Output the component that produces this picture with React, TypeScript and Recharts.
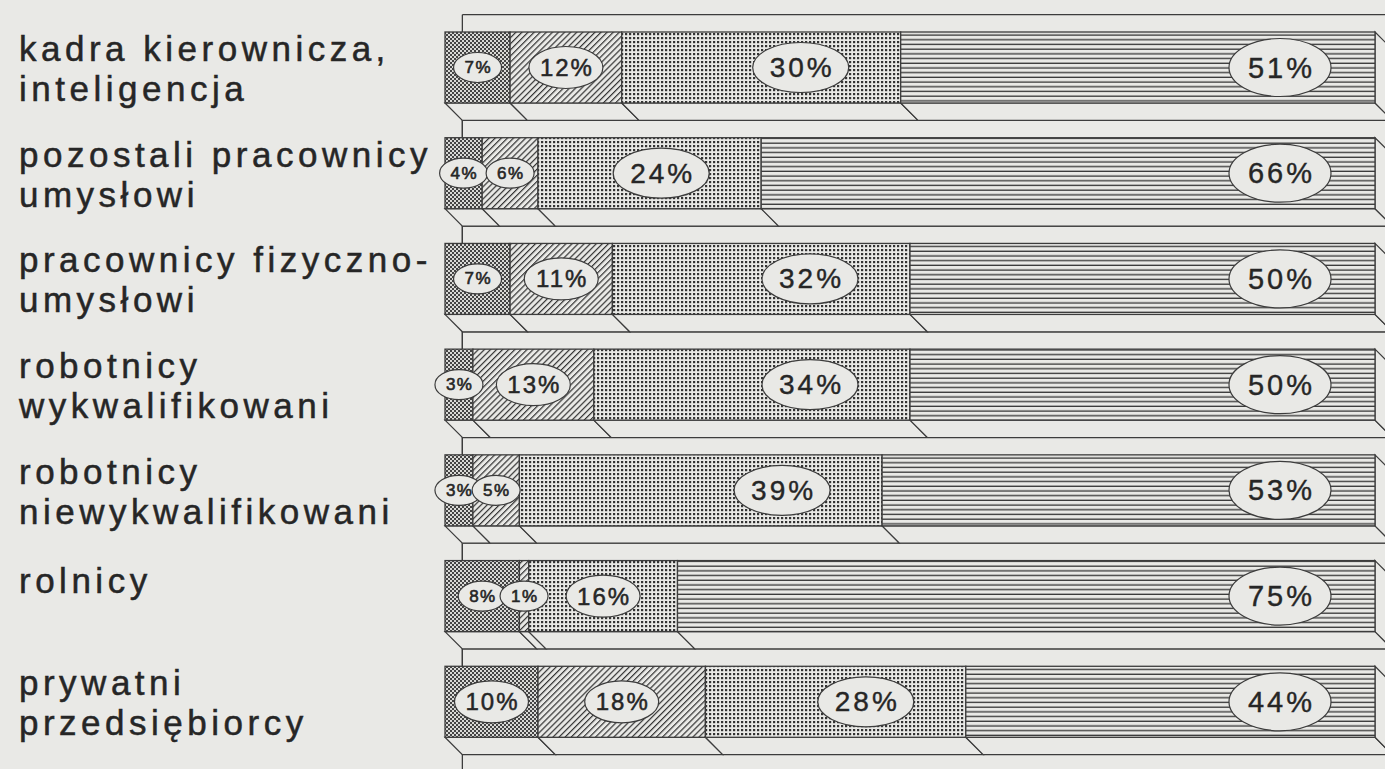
import { BarChart, Bar, XAxis, YAxis } from 'recharts'

// category names, '\n' marks the line break used in the print
const categories = [
  'kadra kierownicza,\ninteligencja',
  'pozostali pracownicy\numysłowi',
  'pracownicy fizyczno-\numysłowi',
  'robotnicy\nwykwalifikowani',
  'robotnicy\nniewykwalifikowani',
  'rolnicy',
  'prywatni\nprzedsiębiorcy',
]

// shares in percent, one array per segment (left to right)
const seg1 = [7, 4, 7, 3, 3, 8, 10]
const seg2 = [12, 6, 11, 13, 5, 1, 18]
const seg3 = [30, 24, 32, 34, 39, 16, 28]
const seg4 = [51, 66, 50, 50, 53, 75, 44]

const data = categories.map((name, i) => ({
  name,
  a: seg1[i],
  b: seg2[i],
  c: seg3[i],
  d: seg4[i],
}))

const PAPER = '#e9e9e6'
const INK = '#3c3c3c'
const DEPTH = 17.36
const FONT = '"Liberation Sans", Arial, sans-serif'

const labelStyles = {
  s: { rx: 24, ry: 15, size: 17, spacing: 1.5, weight: 0.6 },
  m: { rx: 37, ry: 21, size: 24, spacing: 2, weight: 0.5 },
  l: { rx: 48, ry: 25, size: 28, spacing: 3, weight: 0.4 },
  xl: { rx: 51, ry: 29, size: 29, spacing: 3, weight: 0.4 },
}

function Backdrop(props: any) {
  const { x, y, width, height } = props
  return (
    <g>
      <line x1={x + DEPTH} y1={y - DEPTH} x2={x + DEPTH} y2={y + height + DEPTH * 2} stroke={INK} strokeWidth={1.3} />
      <line x1={x + DEPTH} y1={y - DEPTH} x2={x + width + 60} y2={y - DEPTH} stroke={INK} strokeWidth={1.3} />
    </g>
  )
}

function PctLabel({ cx, cy, value, kind }: any) {
  const st = (labelStyles as any)[kind]
  return (
    <g>
      <ellipse cx={cx} cy={cy} rx={st.rx} ry={st.ry} fill={PAPER} stroke={INK} strokeWidth={1.2} />
      <text
        x={cx + st.spacing / 2}
        y={cy}
        textAnchor="middle"
        dominantBaseline="central"
        fontFamily={FONT}
        fontSize={st.size}
        letterSpacing={st.spacing}
        fill="#262626"
        stroke="#262626"
        strokeWidth={st.weight}
      >
        {value}%
      </text>
    </g>
  )
}

function Segment(props: any) {
  const { x, y, width, height, fill, isLast, payload } = props
  const d = DEPTH
  const bottom = y + height
  const labels: any[] = []
  if (isLast) {
    // all four labels are drawn with the last segment so they sit on top
    const vals = [payload.a, payload.b, payload.c, payload.d]
    const total = vals.reduce((s, v) => s + v, 0)
    const unit = width / payload.d
    const origin = x + width - total * unit
    let acc = 0
    vals.forEach((v, k) => {
      const x0 = origin + acc * unit
      const x1 = origin + (acc + v) * unit
      acc += v
      const kind = k === 3 ? 'xl' : v < 10 ? 's' : v < 20 ? 'm' : 'l'
      let cx = (x0 + x1) / 2
      if (k === 3) cx = x1 - 95
      else if (kind === 'l') cx = Math.max(cx, x1 - 100)
      labels.push(<PctLabel key={k} cx={cx} cy={y + height / 2} value={v} kind={kind} />)
    })
  }
  return (
    <g>
      <polygon
        points={`${x},${bottom} ${x + width},${bottom} ${x + width + d},${bottom + d} ${x + d},${bottom + d}`}
        fill={PAPER}
        stroke={INK}
        strokeWidth={1.2}
      />
      {isLast && (
        <polygon
          points={`${x + width},${y} ${x + width + d},${y + d} ${x + width + d},${bottom + d} ${x + width},${bottom}`}
          fill={PAPER}
          stroke={INK}
          strokeWidth={1.2}
        />
      )}
      <rect x={x} y={y} width={width} height={height} fill={PAPER} />
      <rect x={x} y={y} width={width} height={height} fill={fill} stroke={INK} strokeWidth={1.3} />
      {labels}
    </g>
  )
}

function CategoryTick(props: any) {
  const { y, payload } = props
  const lines = String(payload.value).split('\n')
  const first = lines.length > 1 ? y - 7 : y - 3
  return (
    <g>
      {lines.map((ln, i) => (
        <text
          key={i}
          x={19}
          y={first + i * 40}
          fontFamily={FONT}
          fontSize={35}
          letterSpacing={4.5}
          fill="#262626"
          stroke="#262626"
          strokeWidth={0.5}
          textAnchor="start"
        >
          {ln}
        </text>
      ))}
    </g>
  )
}

function Patterns() {
  return (
    <svg width={0} height={0} style={{ position: 'absolute' }}>
      <defs>
        <pattern id="pCheck" width={4} height={4} patternUnits="userSpaceOnUse">
          <rect width={4} height={4} fill="#d9d9d6" />
          <rect x={0} y={0} width={2} height={2} fill="#444" />
          <rect x={2} y={2} width={2} height={2} fill="#444" />
        </pattern>
        <pattern id="pDiag" width={4.3} height={10} patternUnits="userSpaceOnUse" patternTransform="rotate(45)">
          <rect x={0} y={0} width={1.2} height={10} fill="#333" />
        </pattern>
        <pattern id="pDots" width={4} height={4} patternUnits="userSpaceOnUse">
          <rect x={1} y={1} width={2.2} height={2.2} fill="#333" />
        </pattern>
        <pattern id="pLines" width={10} height={4.7} patternUnits="userSpaceOnUse">
          <rect x={0} y={1.5} width={10} height={1.3} fill="#333" />
        </pattern>
      </defs>
    </svg>
  )
}

export default function App() {
  return (
    <div
      style={{
        position: 'absolute',
        left: 0,
        top: 0,
        width: 1385,
        height: 769,
        overflow: 'hidden',
        background: PAPER,
      }}
    >
      <Patterns />
      <BarChart
        layout="vertical"
        width={1385}
        height={769}
        data={data}
        barSize={71}
        margin={{ top: 15, right: 10, bottom: 14, left: 0 }}
      >
        <XAxis type="number" domain={[0, 100]} hide />
        <YAxis
          type="category"
          dataKey="name"
          width={445}
          axisLine={false}
          tickLine={false}
          interval={0}
          tick={<CategoryTick />}
        />
        <Bar
          dataKey="a"
          stackId="s"
          fill="url(#pCheck)"
          isAnimationActive={false}
          background={(p: any) => <Backdrop {...p} />}
          shape={(p: any) => <Segment {...p} />}
        />
        <Bar dataKey="b" stackId="s" fill="url(#pDiag)" isAnimationActive={false} shape={(p: any) => <Segment {...p} />} />
        <Bar dataKey="c" stackId="s" fill="url(#pDots)" isAnimationActive={false} shape={(p: any) => <Segment {...p} />} />
        <Bar
          dataKey="d"
          stackId="s"
          fill="url(#pLines)"
          isAnimationActive={false}
          shape={(p: any) => <Segment {...p} isLast />}
        />
      </BarChart>
    </div>
  )
}
